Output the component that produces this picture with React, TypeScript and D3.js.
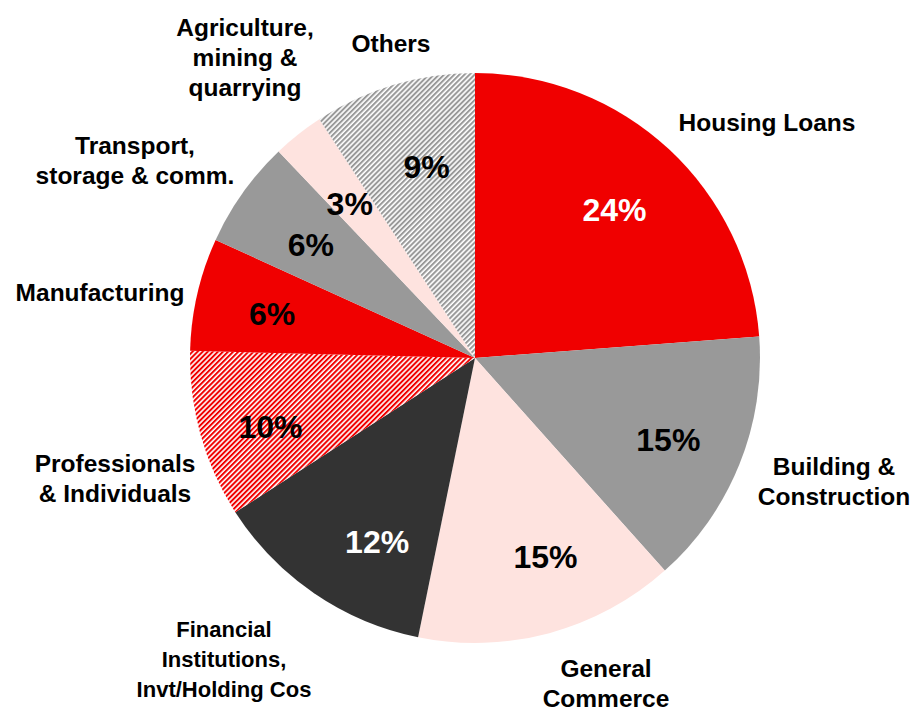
import React from "react";
import * as d3 from "d3";

const categories = [
  "Housing Loans",
  "Building & Construction",
  "General Commerce",
  "Financial Institutions, Invt/Holding Cos",
  "Professionals & Individuals",
  "Manufacturing",
  "Transport, storage & comm.",
  "Agriculture, mining & quarrying",
  "Others",
];
const values = [23.8, 14.6, 14.8, 12.7, 9.5, 6.4, 6.1, 2.9, 9.2];
const pctLabels = ["24%", "15%", "15%", "12%", "10%", "6%", "6%", "3%", "9%"];
const outerLines = [
  ["Housing Loans"],
  ["Building &", "Construction"],
  ["General", "Commerce"],
  ["Financial", "Institutions,", "Invt/Holding Cos"],
  ["Professionals", "& Individuals"],
  ["Manufacturing"],
  ["Transport,", "storage & comm."],
  ["Agriculture,", "mining &", "quarrying"],
  ["Others"],
];

const fills = [
  "#f00000",
  "#999999",
  "#fee3df",
  "#333333",
  "url(#stripeRed)",
  "#f00000",
  "#999999",
  "#fee3df",
  "url(#stripeGray)",
];
const pctColors = ["#fff", "#000", "#000", "#fff", "#000", "#000", "#000", "#000", "#000"];
// layout of the outer labels (first line baseline, center)
const outerPos: [number, number][] = [
  [767, 131],
  [834, 475],
  [606, 677],
  [224, 637],
  [115, 472],
  [100, 301],
  [135, 154],
  [245, 36],
  [391, 52],
];
const outerSize = [24.5, 24.5, 24.5, 22, 24.5, 24.5, 24.5, 24.5, 24.5];
// small layout nudges of the percent labels from the arc centroid
const pctNudge: [number, number][] = [
  [0, 2],
  [3, 5],
  [17, 0],
  [18, 14],
  [-7, 13],
  [-3, 1],
  [3, 6],
  [2, 6],
  [10, 5],
];

export default function App() {
  const width = 914;
  const height = 711;
  const cx = 475;
  const cy = 358;
  const r = 285;
  const pie = d3.pie<number>().sort(null).value((d) => d);
  const arcs = pie(values);
  const arcGen = d3.arc<d3.PieArcDatum<number>>().innerRadius(0).outerRadius(r);
  const labelArc = d3.arc<d3.PieArcDatum<number>>().innerRadius(r * 0.72).outerRadius(r * 0.72);

  return (
    <svg
      width={width}
      height={height}
      style={{ position: "absolute", left: 0, top: 0 }}
      fontFamily="'Liberation Sans', Arial, sans-serif"
      fontWeight="bold"
    >
      <defs>
        <pattern id="stripeRed" patternUnits="userSpaceOnUse" width="3.6" height="3.6" patternTransform="rotate(45)">
          <rect width="3.6" height="3.6" fill="#ffffff" />
          <rect width="2" height="3.6" fill="#f00000" />
        </pattern>
        <pattern id="stripeGray" patternUnits="userSpaceOnUse" width="3.6" height="3.6" patternTransform="rotate(45)">
          <rect width="3.6" height="3.6" fill="#ffffff" />
          <rect width="2" height="3.6" fill="#999999" />
        </pattern>
      </defs>
      <rect width={width} height={height} fill="#fff" />
      <g transform={`translate(${cx},${cy})`}>
        {arcs.map((a, i) => (
          <path key={categories[i]} d={arcGen(a) || ""} fill={fills[i]} />
        ))}
        {arcs.map((a, i) => {
          const [x, y] = labelArc.centroid(a);
          return (
            <text
              key={"p" + i}
              x={x + pctNudge[i][0]}
              y={y + pctNudge[i][1]}
              dy="0.36em"
              textAnchor="middle"
              fontSize={32}
              fill={pctColors[i]}
            >
              {pctLabels[i]}
            </text>
          );
        })}
      </g>
      {outerLines.map((lines, i) => (
        <text key={"o" + i} x={outerPos[i][0]} y={outerPos[i][1]} textAnchor="middle" fontSize={outerSize[i]} fill="#000">
          {lines.map((l, j) => (
            <tspan key={j} x={outerPos[i][0]} dy={j === 0 ? 0 : 30}>
              {l}
            </tspan>
          ))}
        </text>
      ))}
    </svg>
  );
}
